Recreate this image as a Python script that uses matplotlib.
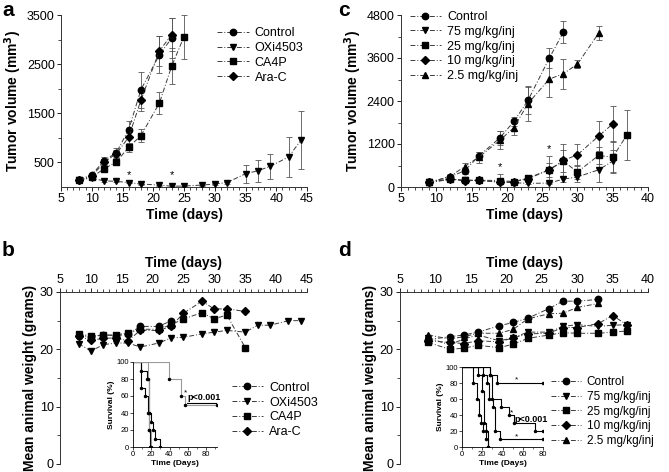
import matplotlib
matplotlib.use("Agg")
import matplotlib.pyplot as plt
from matplotlib.ticker import MultipleLocator, FixedLocator

plt.rcParams['font.family'] = ['Liberation Sans', 'DejaVu Sans']

W, H = 669, 472

# ---- panel a: tumor volume ----
ctrl_a_days = [8, 10, 12, 14, 16, 18, 21, 23]
ctrl_a = [150, 250, 535, 700, 1165, 1980, 2690, 3030]
ctrl_a_err = [20, 40, 80, 90, 170, 370, 380, 400]
oxi_a_days = [8, 10, 12, 14, 16, 18, 21, 23, 25, 28, 30, 32, 35, 37, 39, 42, 44]
oxi_a = [150, 180, 125, 115, 90, 60, 40, 15, 20, 40, 60, 90, 270, 330, 420, 610, 950]
oxi_a_err = [20, 30, 20, 20, 15, 10, 10, 5, 5, 10, 15, 20, 180, 220, 260, 400, 590]
ca4p_a_days = [8, 10, 12, 14, 16, 18, 21, 23, 25]
ca4p_a = [150, 200, 370, 510, 810, 1045, 1710, 2460, 3060]
ca4p_a_err = [20, 30, 60, 60, 90, 130, 220, 360, 450]
arac_a_days = [8, 10, 12, 14, 16, 18, 21, 23]
arac_a = [150, 220, 500, 680, 1010, 1770, 2770, 3100]
arac_a_err = [20, 30, 60, 80, 150, 230, 300, 330]
star_a_days = [16, 23]

# ---- panel c: tumor volume, dose ----
ctrl_c_days = [9, 12, 14, 16, 19, 21, 23, 26, 28]
ctrl_c = [130, 290, 450, 860, 1370, 1830, 2420, 3590, 4320]
ctrl_c_err = [20, 40, 80, 120, 200, 120, 380, 280, 300]
d75_c_days = [9, 12, 14, 16, 19, 21, 23, 26, 28, 30, 33, 35]
d75_c = [130, 210, 190, 180, 140, 120, 100, 110, 220, 280, 480, 720]
d75_c_err = [20, 40, 30, 30, 30, 30, 30, 40, 80, 150, 350, 300]
d25_c_days = [9, 12, 14, 16, 19, 21, 23, 26, 28, 30, 33, 35, 37]
d25_c = [130, 220, 190, 190, 180, 150, 250, 480, 720, 420, 880, 830, 1450]
d25_c_err = [20, 40, 40, 40, 60, 40, 80, 200, 300, 200, 250, 450, 700]
d10_c_days = [9, 12, 14, 16, 19, 21, 23, 26, 28, 30, 33, 35]
d10_c = [130, 230, 170, 190, 130, 150, 230, 480, 740, 900, 1420, 1760]
d10_c_err = [20, 50, 40, 40, 220, 60, 100, 380, 450, 300, 420, 500]
d2_c_days = [9, 12, 14, 16, 19, 21, 23, 26, 28, 30, 33]
d2_c = [130, 300, 570, 830, 1300, 1660, 2330, 3010, 3160, 3430, 4290]
d2_c_err = [20, 50, 100, 150, 250, 220, 500, 500, 420, 120, 200]
star_c = [(19, 560), (26, 1060)]

# ---- panel b: body weight ----
ctrl_b_days = [8, 10, 12, 14, 16, 18, 21, 23]
ctrl_b = [22.4, 22.2, 22.5, 22.4, 22.6, 24.0, 24.0, 25.0]
oxi_b_days = [8, 10, 12, 14, 16, 18, 21, 23, 25, 28, 30, 32, 35, 37, 39, 42, 44]
oxi_b = [21.0, 19.7, 20.8, 21.1, 21.1, 20.4, 21.1, 22.0, 22.1, 22.7, 23.0, 23.3, 23.0, 24.2, 24.2, 25.0, 25.0]
ca4p_b_days = [8, 10, 12, 14, 16, 18, 21, 23, 25, 28, 30, 32, 35]
ca4p_b = [22.7, 22.3, 22.5, 22.5, 22.9, 23.5, 23.5, 24.3, 25.3, 26.4, 25.3, 26.0, 20.3]
arac_b_days = [8, 10, 12, 14, 16, 18, 21, 23, 25, 28, 30, 32, 35]
arac_b = [22.3, 21.6, 21.9, 22.0, 21.5, 23.3, 23.3, 24.0, 26.3, 28.4, 27.0, 27.1, 26.6]

# ---- panel d: body weight, dose ----
d_days = [9, 12, 14, 16, 19, 21, 23, 26, 28, 30, 33, 35, 37]
ctrl_d = [21.7, 22.2, 22.5, 23.0, 24.1, 24.7, 25.4, 27.1, 28.4, 28.4, 28.7]
d75_d = [22.0, 20.8, 21.8, 22.5, 21.5, 22.0, 23.0, 23.0, 24.0, 24.3, 24.0, 24.2, 24.3]
d25_d = [21.2, 20.0, 20.2, 20.7, 20.3, 20.9, 21.9, 22.5, 22.9, 22.8, 22.8, 23.0, 23.2]
d10_d = [21.5, 21.2, 21.0, 21.5, 21.3, 22.0, 22.7, 22.8, 23.8, 23.8, 24.5, 25.9, 24.3]
d2_d = [22.5, 21.8, 22.2, 22.8, 22.8, 23.5, 25.3, 26.2, 26.3, 27.3, 28.0]

# ---- survival insets ----
surv_b = [  # (times, survival %, colour)
    ([0, 9, 13, 16, 17, 19], [100, 70, 60, 40, 20, 0], 'black'),
    ([0, 9, 15, 17, 20, 22, 24, 30], [100, 90, 80, 40, 30, 20, 10, 0], 'black'),
    ([0, 16, 17, 18, 20], [100, 80, 40, 20, 0], '#999999'),
    ([0, 39, 53, 57, 92], [100, 80, 60, 50, 50], '#999999'),
]
surv_d = [
    ([0, 11, 15, 17, 19, 21, 24, 26], [100, 80, 60, 40, 30, 20, 10, 0], 'black'),
    ([0, 16, 20, 22, 24, 26], [100, 90, 70, 30, 20, 0], 'black'),
    ([0, 21, 25, 27, 31, 33, 38, 80], [100, 90, 80, 60, 50, 20, 10, 10], 'black'),
    ([0, 28, 30, 39, 46, 51, 72, 80], [100, 90, 60, 50, 40, 30, 20, 20], 'black'),
    ([0, 28, 35, 80], [100, 90, 80, 80], 'black'),
]

LINE = dict(color='#3a3a3a', lw=0.7, linestyle=(0, (5, 2, 1, 2)))
MS = {'o': 4.6, 'v': 4.8, '^': 4.8, 's': 4.2, 'D': 3.8}


def px_axes(fig, x0, y0, x1, y1):
    return fig.add_axes([x0 / W, 1 - y1 / H, (x1 - x0) / W, (y1 - y0) / H])


def series(ax, x, y, err, marker, label=None):
    ax.errorbar(x, y, yerr=err, fmt='none', ecolor='#555555', elinewidth=0.6,
                capsize=2, capthick=0.6, zorder=2)
    ax.plot(x, y, marker=marker, ms=MS[marker], mfc='black', mec='black',
            label=label, zorder=3, **LINE)


def style(ax, top=False):
    for s in ax.spines.values():
        s.set_linewidth(0.7)
        s.set_color('#333333')
    ax.spines['right'].set_visible(False)
    ax.spines['bottom' if top else 'top'].set_visible(False)
    ax.tick_params(labelsize=9, length=3, width=0.6, pad=1.5)
    ax.tick_params(which='minor', length=2, width=0.5)
    if top:
        ax.xaxis.tick_top()
        ax.xaxis.set_label_position('top')


def legend(ax, x, y, fs=9):
    ax.legend(loc='upper left', bbox_to_anchor=(x, y), frameon=False, fontsize=fs,
              handlelength=2.5, handletextpad=0.5, labelspacing=0.22,
              borderaxespad=0, borderpad=0.3)


fig = plt.figure(figsize=(W / 100, H / 100), dpi=100)

# panel a
ax = px_axes(fig, 61, 15, 307, 187)
series(ax, ctrl_a_days, ctrl_a, ctrl_a_err, 'o', 'Control')
series(ax, oxi_a_days, oxi_a, oxi_a_err, 'v', 'OXi4503')
series(ax, ca4p_a_days, ca4p_a, ca4p_a_err, 's', 'CA4P')
series(ax, arac_a_days, arac_a, arac_a_err, 'D', 'Ara-C')
for d in star_a_days:
    ax.text(d, 250, '*', ha='center', va='center', fontsize=8)
ax.set_xlim(5, 45)
ax.set_ylim(0, 3500)
ax.xaxis.set_major_locator(MultipleLocator(5))
ax.xaxis.set_minor_locator(MultipleLocator(1))
ax.yaxis.set_major_locator(FixedLocator([500, 1500, 2500, 3500]))
ax.yaxis.set_minor_locator(FixedLocator([1000, 2000, 3000]))
ax.set_xlabel('Time (days)', fontsize=10, fontweight='bold', labelpad=2)
ax.set_ylabel('Tumor volume (mm$\\mathbf{^3}$)', fontsize=10, fontweight='bold', labelpad=2)
style(ax)
legend(ax, 0.62, 0.95)

# panel c
ax = px_axes(fig, 401, 15, 648, 187)
series(ax, ctrl_c_days, ctrl_c, ctrl_c_err, 'o', 'Control')
series(ax, d75_c_days, d75_c, d75_c_err, 'v', '75 mg/kg/inj')
series(ax, d25_c_days, d25_c, d25_c_err, 's', '25 mg/kg/inj')
series(ax, d10_c_days, d10_c, d10_c_err, 'D', '10 mg/kg/inj')
series(ax, d2_c_days, d2_c, d2_c_err, '^', '2.5 mg/kg/inj')
for d, v in star_c:
    ax.text(d, v, '*', ha='center', va='center', fontsize=8)
ax.set_xlim(5, 40)
ax.set_ylim(0, 4800)
ax.xaxis.set_major_locator(MultipleLocator(5))
ax.xaxis.set_minor_locator(MultipleLocator(1))
ax.yaxis.set_major_locator(MultipleLocator(1200))
ax.yaxis.set_minor_locator(MultipleLocator(600))
ax.set_xlabel('Time (days)', fontsize=10, fontweight='bold', labelpad=2)
ax.set_ylabel('Tumor volume (mm$\\mathbf{^3}$)', fontsize=10, fontweight='bold', labelpad=2)
style(ax)
legend(ax, 0.02, 1.045)

# panel b
ax = px_axes(fig, 60, 292, 307, 464)
series(ax, ctrl_b_days, ctrl_b, None, 'o', 'Control')
series(ax, oxi_b_days, oxi_b, None, 'v', 'OXi4503')
series(ax, ca4p_b_days, ca4p_b, None, 's', 'CA4P')
series(ax, arac_b_days, arac_b, None, 'D', 'Ara-C')
ax.set_xlim(5, 45)
ax.set_ylim(0, 30)
ax.xaxis.set_major_locator(MultipleLocator(5))
ax.xaxis.set_minor_locator(MultipleLocator(1))
ax.yaxis.set_major_locator(MultipleLocator(10))
ax.yaxis.set_minor_locator(MultipleLocator(5))
style(ax, top=True)
ax.set_xlabel('Time (days)', fontsize=10, fontweight='bold', labelpad=5)
ax.set_ylabel('Mean animal weight (grams)', fontsize=10, fontweight='bold', labelpad=2)
legend(ax, 0.68, 0.50)

# panel d
ax = px_axes(fig, 400, 292, 648, 464)
series(ax, d_days[:len(ctrl_d)], ctrl_d, None, 'o', 'Control')
series(ax, d_days, d75_d, None, 'v', '75 mg/kg/inj')
series(ax, d_days, d25_d, None, 's', '25 mg/kg/inj')
series(ax, d_days, d10_d, None, 'D', '10 mg/kg/inj')
series(ax, d_days[:len(d2_d)], d2_d, None, '^', '2.5 mg/kg/inj')
ax.set_xlim(5, 40)
ax.set_ylim(0, 30)
ax.xaxis.set_major_locator(MultipleLocator(5))
ax.xaxis.set_minor_locator(MultipleLocator(1))
ax.yaxis.set_major_locator(MultipleLocator(10))
ax.yaxis.set_minor_locator(MultipleLocator(5))
style(ax, top=True)
ax.set_xlabel('Time (days)', fontsize=10, fontweight='bold', labelpad=5)
ax.set_ylabel('Mean animal weight (grams)', fontsize=10, fontweight='bold', labelpad=2)
legend(ax, 0.595, 0.53, fs=8.5)


def inset(rect, curves, xmax, ptext, stars):
    ax = px_axes(fig, *rect)
    for t, s, c in curves:
        ax.step(t, s, where='post', color=c, lw=0.8)
        ax.plot(t[1:], s[1:], 'o', ms=1.5, color='black')
    for x, y in stars:
        ax.text(x, y, '*', ha='center', va='center', fontsize=6)
    ax.text(ptext[0], ptext[1], 'p<0.001', fontsize=6.5, fontweight='bold', va='center')
    ax.set_xlim(0, xmax)
    ax.set_ylim(0, 100)
    ax.xaxis.set_major_locator(MultipleLocator(20))
    ax.xaxis.set_minor_locator(MultipleLocator(10))
    ax.yaxis.set_major_locator(MultipleLocator(20))
    for s in ['top', 'right']:
        ax.spines[s].set_visible(False)
    for s in ['left', 'bottom']:
        ax.spines[s].set_linewidth(0.6)
    ax.tick_params(labelsize=5.5, length=2, width=0.5, pad=1)
    ax.tick_params(which='minor', length=1.5, width=0.4)
    ax.set_xlabel('Time (Days)', fontsize=6, fontweight='bold', labelpad=1)
    ax.set_ylabel('Survival (%)', fontsize=6, fontweight='bold', labelpad=1)
    ax.patch.set_alpha(0)
    return ax


axb = inset((133, 362, 217, 447), surv_b, 92, (60, 58), [(57, 64)])
axb.plot([59, 92], [52, 52], color='black', lw=0.8)
inset((462, 367, 543, 447), surv_d, 80, (52, 35), [(54, 84), (49, 43), (54, 13)])

fig.text(2 / W, 1 - 11 / H, 'a', fontsize=15, fontweight='bold', va='center')
fig.text(2 / W, 1 - 250 / H, 'b', fontsize=15, fontweight='bold', va='center')
fig.text(338 / W, 1 - 11 / H, 'c', fontsize=15, fontweight='bold', va='center')
fig.text(338 / W, 1 - 250 / H, 'd', fontsize=15, fontweight='bold', va='center')

fig.savefig('out.png', dpi=100)
